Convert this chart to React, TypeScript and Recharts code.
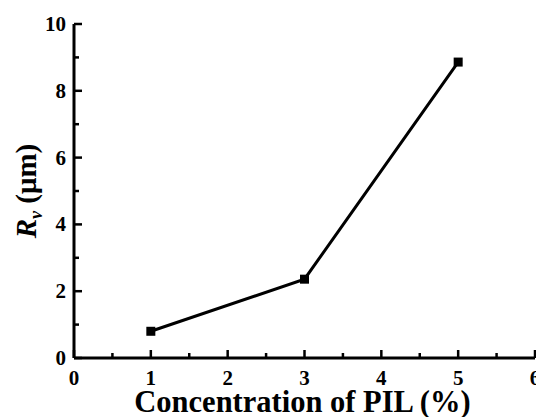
import { LineChart, Line, XAxis, YAxis } from 'recharts'

const concentration = [1, 3, 5]
const rv = [0.8, 2.36, 8.86]

const xTicks = [0, 0.5, 1, 1.5, 2, 2.5, 3, 3.5, 4, 4.5, 5, 5.5, 6]
const yTicks = [0, 1, 2, 3, 4, 5, 6, 7, 8, 9, 10]
const xLabelTicks = [0, 1, 2, 3, 4, 5, 6]
const yLabelTicks = [0, 2, 4, 6, 8, 10]

const data = concentration.map((c, i) => ({ x: c, rv: rv[i] }))

const FONT = '"Liberation Serif", "Times New Roman", serif'

function XTick(props: any) {
  const { x, y, payload } = props
  const major = xLabelTicks.includes(payload.value)
  return (
    <g>
      <line x1={x} y1={y} x2={x} y2={y - (major ? 8 : 5)} stroke="#000" strokeWidth={2.5} />
      {major && (
        <text x={x} y={y + 27} textAnchor="middle" fontFamily={FONT} fontWeight="bold" fontSize={21} fill="#000">
          {payload.value}
        </text>
      )}
    </g>
  )
}

function YTick(props: any) {
  const { x, y, payload } = props
  const major = yLabelTicks.includes(payload.value)
  return (
    <g>
      <line x1={x} y1={y} x2={x + (major ? 8 : 5)} y2={y} stroke="#000" strokeWidth={2.5} />
      {major && (
        <text x={x - 8} y={y + 7} textAnchor="end" fontFamily={FONT} fontWeight="bold" fontSize={21} fill="#000">
          {payload.value}
        </text>
      )}
    </g>
  )
}

function SquareDot(props: any) {
  const { cx, cy } = props
  return <rect x={cx - 4.5} y={cy - 4.5} width={9} height={9} fill="#000" />
}

function XTitle(props: any) {
  const vb = props.viewBox
  return (
    <text x={vb.x + vb.width / 2 - 2} y={vb.y + 54} textAnchor="middle" fontFamily={FONT} fontWeight="bold" fontSize={30.5} fill="#000">
      Concentration of PIL (%)
    </text>
  )
}

function YTitle(props: any) {
  const vb = props.viewBox
  const cx = 36
  const cy = vb.y + vb.height / 2
  return (
    <text x={cx} y={cy} transform={`rotate(-90, ${cx}, ${cy})`} textAnchor="middle" fontFamily={FONT} fontWeight="bold" fontSize={29} fill="#000">
      <tspan fontStyle="italic">R</tspan>
      <tspan fontStyle="italic" fontSize={18} dy={6}>v</tspan>
      <tspan dy={-6}> (μm)</tspan>
    </text>
  )
}

export default function App() {
  return (
    <div style={{ position: 'absolute', left: 0, top: 0, background: '#fff' }}>
      <LineChart width={536} height={417} data={data} margin={{ top: 24, right: 1, bottom: 0, left: 0 }}>
        <XAxis
          dataKey="x"
          type="number"
          domain={[0, 6]}
          ticks={xTicks}
          interval={0}
          height={59}
          tickSize={0}
          tickMargin={0}
          tickLine={false}
          axisLine={{ stroke: '#000', strokeWidth: 3 }}
          tick={<XTick />}
          label={{ content: XTitle }}
        />
        <XAxis
          xAxisId="top"
          orientation="top"
          type="number"
          domain={[0, 6]}
          height={0}
          tick={false}
          tickLine={false}
          axisLine={{ stroke: '#000', strokeWidth: 3 }}
        />
        <YAxis
          type="number"
          domain={[0, 10]}
          ticks={yTicks}
          interval={0}
          width={74}
          tickSize={0}
          tickMargin={0}
          tickLine={false}
          axisLine={{ stroke: '#000', strokeWidth: 3 }}
          tick={<YTick />}
          label={{ content: YTitle }}
        />
        <YAxis
          yAxisId="right"
          orientation="right"
          type="number"
          domain={[0, 10]}
          width={0}
          tick={false}
          tickLine={false}
          axisLine={{ stroke: '#000', strokeWidth: 3 }}
        />
        <Line
          dataKey="rv"
          stroke="#000"
          strokeWidth={3}
          dot={<SquareDot />}
          activeDot={false}
          isAnimationActive={false}
        />
      </LineChart>
    </div>
  )
}
